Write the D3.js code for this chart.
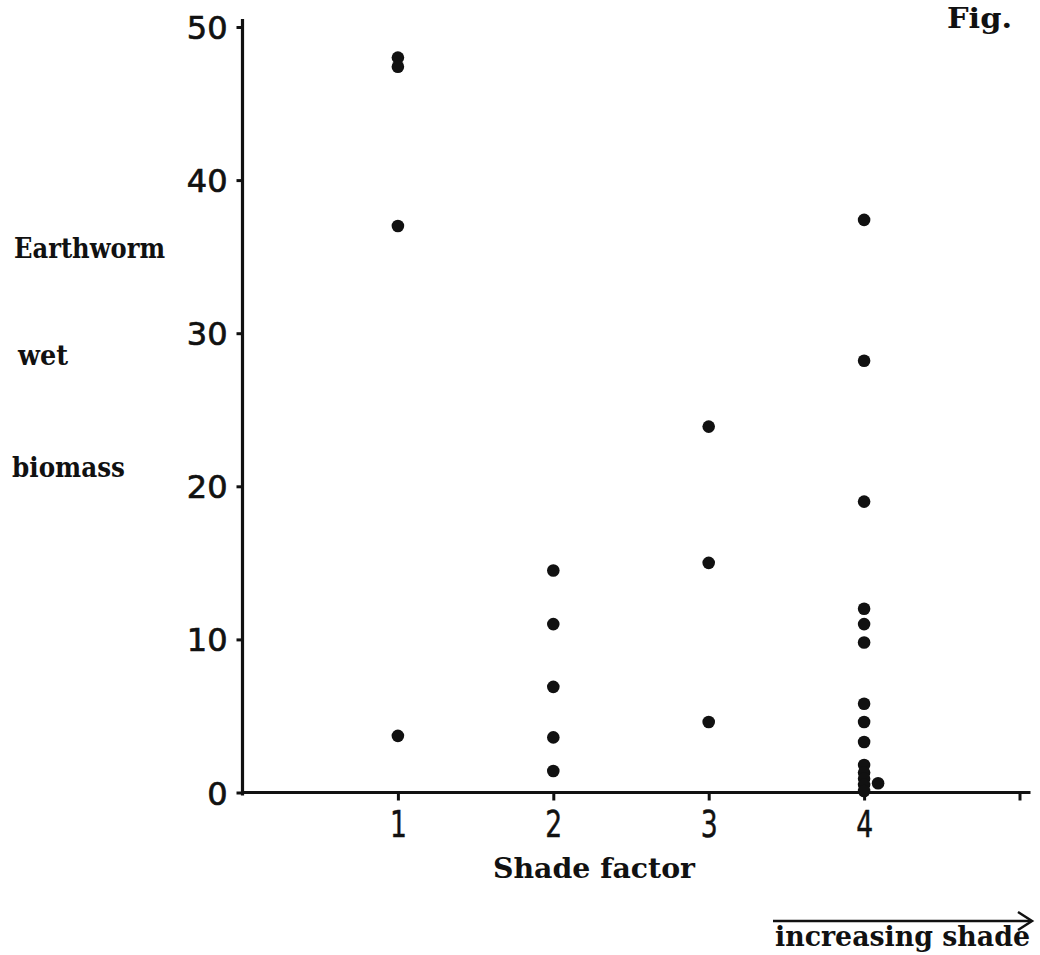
<!DOCTYPE html>
<html>
<head>
<meta charset="utf-8">
<script src="https://cdn.jsdelivr.net/npm/d3@7"></script>
<style>
  html, body { margin: 0; padding: 0; background: #fff; }
  svg { display: block; }
  .tw { font-family: "DejaVu Serif", "Liberation Serif", serif; font-weight: bold; fill: #111; }
</style>
</head>
<body>
<svg id="chart" width="1040" height="955"></svg>
<script>
// ---- data ----
const shadeCategories = [1, 2, 3, 4];
const shade1Biomass = [48.0, 47.4, 37.0, 3.7];
const shade2Biomass = [14.5, 11.0, 6.9, 3.6, 1.4];
const shade3Biomass = [23.9, 15.0, 4.6];
const shade4Biomass = [37.4, 28.2, 19.0, 12.0, 11.0, 9.8, 5.8, 4.6, 3.3, 1.8, 1.3, 0.9, 0.5, 0.1];
const offsetPointX = [4.09];
const offsetPointY = [0.6];
const xTickValues = [1, 2, 3, 4, 5];
const xTickLabels = ["1", "2", "3", "4", ""];
const yTickValues = [0, 10, 20, 30, 40, 50];

const points = [];
[shade1Biomass, shade2Biomass, shade3Biomass, shade4Biomass].forEach((arr, i) => {
  arr.forEach(v => points.push({ x: shadeCategories[i], y: v }));
});
offsetPointX.forEach((xv, i) => points.push({ x: xv, y: offsetPointY[i] }));

const svg = d3.select("#chart");
const x = d3.scaleLinear().domain([0, 5]).range([242.5, 1019.5]);
const y = d3.scaleLinear().domain([0, 50]).range([792.5, 27]);

// y axis
const yAxis = svg.append("g")
  .attr("transform", `translate(${x(0)},0)`)
  .call(d3.axisLeft(y).tickValues(yTickValues).tickSize(6).tickSizeOuter(0).tickPadding(9));
yAxis.select(".domain").remove();
yAxis.selectAll(".tick line").attr("stroke", "#111").attr("stroke-width", 3);
yAxis.selectAll(".tick text")
  .attr("fill", "#111")
  .attr("stroke", "#111").attr("stroke-width", 0.7)
  .style("font-family", "'DejaVu Sans', sans-serif")
  .style("font-size", "32px")
  .attr("dy", "0.36em");

// x axis
const xAxis = svg.append("g")
  .attr("transform", `translate(0,${y(0)})`)
  .call(d3.axisBottom(x).tickValues(xTickValues).tickFormat((d, i) => xTickLabels[i]).tickSize(8).tickSizeOuter(0).tickPadding(10));
xAxis.select(".domain").remove();
xAxis.selectAll(".tick line").attr("stroke", "#111").attr("stroke-width", 3);
xAxis.selectAll(".tick text")
  .attr("fill", "#111")
  .attr("stroke", "#111").attr("stroke-width", 0.5)
  .attr("transform", "scale(0.72,1)")
  .style("font-family", "'DejaVu Sans', sans-serif")
  .style("font-size", "37px");

// axis lines
svg.append("line")
  .attr("x1", x(0)).attr("x2", x(0))
  .attr("y1", y(0) + 3).attr("y2", y(50) - 8)
  .attr("stroke", "#111").attr("stroke-width", 3.2);
svg.append("line")
  .attr("x1", x(0)).attr("x2", x(5) + 11)
  .attr("y1", y(0)).attr("y2", y(0))
  .attr("stroke", "#111").attr("stroke-width", 3.2);

// points
svg.append("g").selectAll("circle")
  .data(points)
  .join("circle")
  .attr("cx", d => x(d.x))
  .attr("cy", d => y(d.y))
  .attr("r", 6.3)
  .attr("fill", "#111");

// texts
svg.append("text").attr("class", "tw").attr("x", 14).attr("y", 258)
  .attr("font-size", 27).attr("textLength", 151).attr("lengthAdjust", "spacingAndGlyphs").text("Earthworm");
svg.append("text").attr("class", "tw").attr("x", 18).attr("y", 365)
  .attr("font-size", 27).attr("textLength", 50).attr("lengthAdjust", "spacingAndGlyphs").text("wet");
svg.append("text").attr("class", "tw").attr("x", 12).attr("y", 477)
  .attr("font-size", 27).attr("textLength", 113).attr("lengthAdjust", "spacingAndGlyphs").text("biomass");
svg.append("text").attr("class", "tw").attr("x", 493).attr("y", 878)
  .attr("font-size", 28).attr("textLength", 202).attr("lengthAdjust", "spacingAndGlyphs").text("Shade factor");
svg.append("text").attr("class", "tw").attr("x", 775).attr("y", 946)
  .attr("font-size", 27).attr("textLength", 255).attr("lengthAdjust", "spacingAndGlyphs").text("increasing shade");
svg.append("text").attr("class", "tw").attr("x", 947).attr("y", 28)
  .attr("font-size", 28).attr("textLength", 65).attr("lengthAdjust", "spacingAndGlyphs").text("Fig.");

// arrow
svg.append("line").attr("x1", 773).attr("x2", 1031).attr("y1", 921).attr("y2", 921)
  .attr("stroke", "#111").attr("stroke-width", 2.5);
svg.append("path").attr("d", "M1018,912 L1032,921 L1018,930")
  .attr("fill", "none").attr("stroke", "#111").attr("stroke-width", 2.5);
</script>
</body>
</html>
